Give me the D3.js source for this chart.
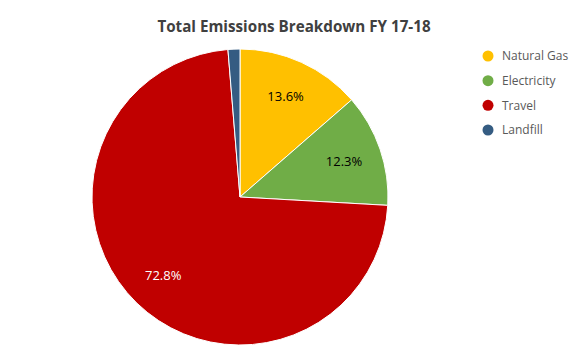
<!DOCTYPE html>
<html>
<head>
<meta charset="utf-8">
<script src="https://cdn.jsdelivr.net/npm/d3@7"></script>
<style>
  body { margin: 0; background: #fff; }
  svg { display: block; }
</style>
</head>
<body>
<svg id="chart" width="587" height="364"></svg>
<script>
// data
const categories = ['Natural Gas', 'Electricity', 'Travel', 'Landfill'];
const shares = [13.6, 12.3, 72.8, 1.3];
const colors = ['#FFC000', '#70AD47', '#C00000', '#355C82'];
const labelColors = ['#000', '#000', '#fff', '#fff'];

const svg = d3.select('#chart');
const cx = 240, cy = 197, R = 148;

svg.append('text')
  .attr('x', 294).attr('y', 32)
  .attr('text-anchor', 'middle')
  .attr('font-family', 'Open Sans, sans-serif')
  .attr('font-weight', 'bold')
  .attr('font-size', 15.2)
  .attr('fill', '#404040')
  .text('Total Emissions Breakdown FY 17-18');

const pie = d3.pie().sort(null).value(d => d);
const arcs = pie(shares);
const arc = d3.arc().innerRadius(0).outerRadius(R);
const labelArc = d3.arc().innerRadius(110).outerRadius(110);

const g = svg.append('g').attr('transform', `translate(${cx},${cy})`);

g.selectAll('path.slice')
  .data(arcs)
  .join('path')
  .attr('class', 'slice')
  .attr('d', arc)
  .attr('fill', (d, i) => colors[i])
  .attr('stroke', '#fff')
  .attr('stroke-width', 1);

g.selectAll('text.pct')
  .data(arcs.filter((d, i) => i < 3))
  .join('text')
  .attr('class', 'pct')
  .attr('transform', d => `translate(${labelArc.centroid(d)})`)
  .attr('text-anchor', 'middle')
  .attr('dy', '0.35em')
  .attr('font-family', 'Open Sans, sans-serif')
  .attr('font-size', 13)
  .attr('fill', (d, i) => labelColors[i])
  .text(d => d.data.toFixed(1) + '%');

// legend
const legendY = d3.scalePoint().domain(categories).range([56, 130]);
const legend = svg.append('g');
const items = legend.selectAll('g')
  .data(categories)
  .join('g')
  .attr('transform', d => `translate(488,${legendY(d)})`);
items.append('circle')
  .attr('r', 5.5)
  .attr('fill', (d, i) => colors[i]);
items.append('text')
  .attr('x', 14)
  .attr('dy', '0.35em')
  .attr('font-family', 'Open Sans, sans-serif')
  .attr('font-size', 12)
  .attr('fill', '#595959')
  .text(d => d);
</script>
</body>
</html>
